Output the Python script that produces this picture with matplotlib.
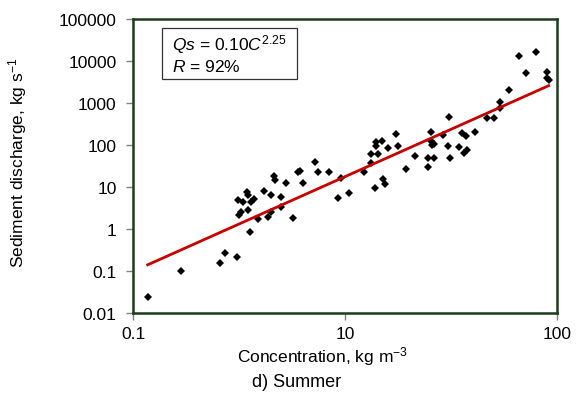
import numpy as np
import matplotlib
matplotlib.use("Agg")
import matplotlib.pyplot as plt
from matplotlib.patches import Rectangle

plt.rcParams['font.family'] = ['Liberation Sans', 'DejaVu Sans']
plt.rcParams['mathtext.fontset'] = 'custom'
plt.rcParams['mathtext.rm'] = 'Liberation Sans'
plt.rcParams['mathtext.it'] = 'Liberation Sans:italic'

###--- Summer samples: concentration (kg m-3) and sediment discharge (kg s-1)
conc = [1.17, 1.68, 2.56, 2.70, 3.08, 3.14, 3.30, 3.44, 3.48, 3.59,
        3.70, 3.16, 3.21, 3.48, 3.56, 3.87, 4.13, 4.31, 4.45, 4.47,
        4.61, 4.65, 4.98, 4.98, 5.24, 5.71, 5.98, 6.16, 6.32, 7.19,
        7.49, 8.44, 9.61, 9.25, 10.47, 12.26, 13.26, 13.30, 13.94, 14.00,
        14.35, 14.94, 16.03, 17.44, 17.76, 15.15, 15.39, 13.79, 19.37, 21.43,
        24.54, 24.73, 25.49, 25.55, 26.33, 25.68, 26.39, 29.10, 30.64, 30.98,
        31.32, 34.52, 35.74, 36.45, 37.44, 37.65, 41.08, 47.02, 50.46, 53.97,
        53.97, 59.36, 66.37, 71.39, 79.98, 89.67, 89.67, 91.58]
qs = [0.024, 0.10, 0.155, 0.27, 0.22, 5.0, 4.4, 7.5, 6.5, 4.5,
      5.2, 2.2, 2.6, 2.9, 0.85, 1.75, 8.0, 2.0, 6.5, 2.6,
      18.8, 15.1, 5.9, 3.3, 12.9, 1.9, 22.6, 24.9, 12.9, 40.8,
      23.6, 22.6, 16.8, 5.4, 7.2, 23.3, 37.6, 60.5, 117, 97,
      60.5, 125, 85.5, 184, 94, 15.4, 11.9, 9.6, 27.8, 54.3,
      29.4, 49.4, 208, 128, 109, 102, 49.4, 177, 94, 459,
      49.4, 88, 191, 65, 169, 76, 202, 442, 437, 1080,
      773, 1995, 13400, 5140, 16250, 5560, 3955, 3450]

# power-law fit Qs = a C^b
coef_a = 0.10
coef_b = 2.25
r_pct = 92

y_ticks = [0.01, 0.1, 1, 10, 100, 1000, 10000, 100000]
y_tick_labels = ['0.01', '0.1', '1', '10', '100', '1000', '10000', '100000']
x_ticks = [1, 10, 100]
x_tick_labels = ['0.1', '10', '100']

conc = np.array(conc)
qs = np.array(qs)

fig = plt.figure(figsize=(5.83, 4.10), dpi=100)
ax = fig.add_axes([0.2286, 0.2334, 0.7263, 0.7178])

ax.plot(conc, qs, 'D', color='black', markersize=3.8, markeredgewidth=0)

cc = np.array([conc.min(), conc.max()])
ax.plot(cc, coef_a*cc**coef_b, color='#c80000', lw=2)

ax.set_xscale('log')
ax.set_yscale('log')
ax.set_xlim(1, 100)
ax.set_ylim(0.01, 100000)
ax.set_xticks(x_ticks)
ax.set_xticklabels(x_tick_labels)
ax.set_yticks(y_ticks)
ax.set_yticklabels(y_tick_labels)
ax.minorticks_off()
ax.tick_params(axis='both', direction='out', length=5, width=1,
               color='#808080', labelsize=12.5, labelcolor='black')
ax.tick_params(axis='y', pad=7)
ax.tick_params(axis='x', pad=4)

for sp in ax.spines.values():
    sp.set_color('#1c3c1c')
    sp.set_linewidth(1.8)

# equation box
ax.add_patch(Rectangle((0.0685, 0.7961), 0.3188, 0.1733, transform=ax.transAxes,
                       fill=True, facecolor='white', edgecolor='#333333', lw=0.9,
                       zorder=3))
ax.text(0.0907, 0.8957, r"$\it{Qs}$ = %.2f$\it{C}^{%.2f}$" % (coef_a, coef_b),
        transform=ax.transAxes, fontsize=12.5, va='baseline', zorder=4)
ax.text(0.0907, 0.8223, r"$\it{R}$ = %d%%" % r_pct,
        transform=ax.transAxes, fontsize=12.5, va='baseline', zorder=4)

fig.text(18/583, 1 - 163/410, r"Sediment discharge, kg s$^{-1}$", rotation=90,
         ha='center', va='center', fontsize=12.5)
fig.text(322/583, 1 - 357/410, r"Concentration, kg m$^{-3}$",
         ha='center', va='center', fontsize=12.5)
fig.text(297/583, 1 - 383/410, "d) Summer", ha='center', va='center', fontsize=13)

fig.savefig('out.png', dpi=100)
